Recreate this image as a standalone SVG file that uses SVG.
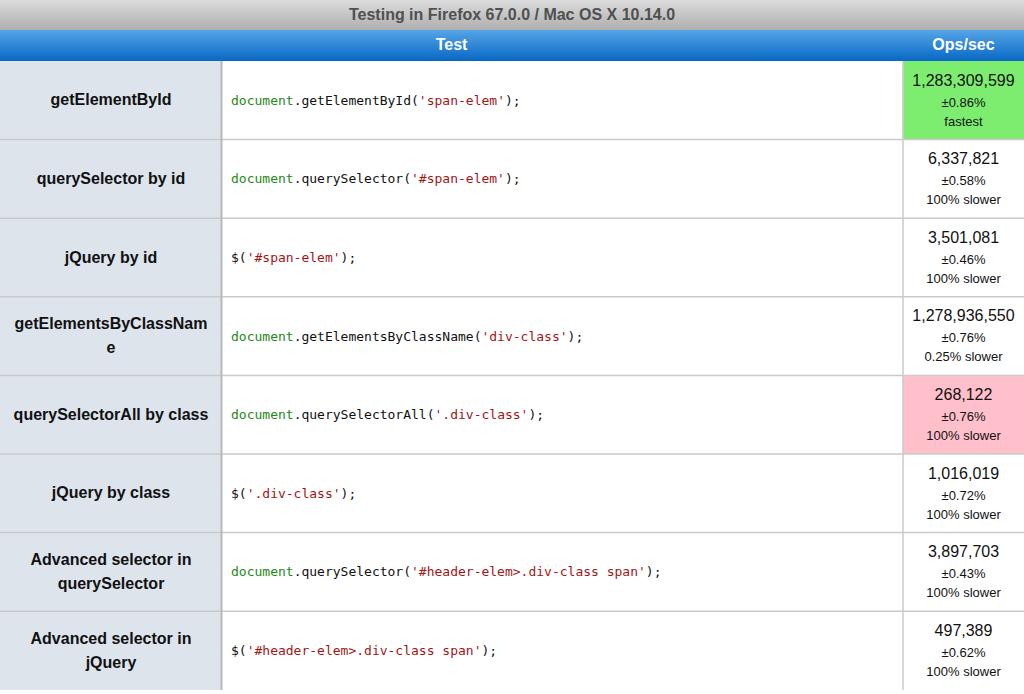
<svg xmlns="http://www.w3.org/2000/svg" width="1024" height="694" viewBox="0 0 1024 694">
<defs>
<linearGradient id="gTitle" x1="0" y1="0" x2="0" y2="1">
<stop offset="0" stop-color="#dcdcdc"/>
<stop offset="1" stop-color="#aeaeae"/>
</linearGradient>
<linearGradient id="gHead" x1="0" y1="0" x2="0" y2="1">
<stop offset="0" stop-color="#55a5e6"/>
<stop offset="1" stop-color="#0868c4"/>
</linearGradient>
<style>
.lab{font-family:"Liberation Sans",Arial,Helvetica,sans-serif;font-weight:bold;font-size:16px;fill:#111;text-anchor:middle}
.code{font-family:"DejaVu Sans Mono","Liberation Mono",monospace;font-size:13px;fill:#111;white-space:pre}
.k{fill:#25871a}
.s{fill:#a31515}
.num{font-family:"Liberation Sans",Arial,Helvetica,sans-serif;font-size:16px;fill:#111;text-anchor:middle}
.sm{font-family:"Liberation Sans",Arial,Helvetica,sans-serif;font-size:13px;fill:#111;text-anchor:middle}
.hd{font-family:"Liberation Sans",Arial,Helvetica,sans-serif;font-weight:bold;font-size:16px;fill:#ffffff;text-anchor:middle}
.lc{fill:#dde4ec}
.grid{stroke:#cacaca;stroke-width:1.5;fill:none}
</style>
</defs>
<rect x="0" y="0" width="1024" height="694" fill="#ffffff"/>
<g id="title">
<rect x="0" y="0" width="1024" height="30" fill="url(#gTitle)"/>
<text x="512" y="19.5" font-family="Liberation Sans,Arial,sans-serif" font-weight="bold" font-size="16" fill="#505050" text-anchor="middle">Testing in Firefox 67.0.0 / Mac OS X 10.14.0</text>
</g>
<g id="header">
<rect x="0" y="30" width="1024" height="31" fill="url(#gHead)"/>
<text class="hd" x="451.5" y="50">Test</text>
<text class="hd" x="963.5" y="50">Ops/sec</text>
</g>
<g id="cells">
<rect class="lc" x="0" y="61" width="222" height="629"/>
<rect x="903" y="61" width="121" height="78.6" fill="#7ded6f"/>
<rect x="903" y="375.4" width="121" height="78.6" fill="#ffc0cb"/>
</g>
<g id="gridlines">
<path class="grid" d="M0 139.6H1024M0 218.2H1024M0 296.8H1024M0 375.4H1024M0 454H1024M0 532.6H1024M0 611.2H1024"/>
<path class="grid" d="M903 61V690"/>
<path d="M221.5 61V690" stroke="#b6babe" stroke-width="2" fill="none"/>
</g>
<g id="row1">
<text class="lab" x="111" y="105.3">getElementById</text>
<text class="code" x="231" y="104.8"><tspan class="k">document</tspan>.getElementById(<tspan class="s">'span-elem'</tspan>);</text>
<text class="num" x="963.5" y="85.5">1,283,309,599</text>
<text class="sm" x="963.5" y="106.5">±0.86%</text>
<text class="sm" x="963.5" y="125.5">fastest</text>
</g>
<g id="row2">
<text class="lab" x="111" y="183.9">querySelector by id</text>
<text class="code" x="231" y="183.4"><tspan class="k">document</tspan>.querySelector(<tspan class="s">'#span-elem'</tspan>);</text>
<text class="num" x="963.5" y="164.1">6,337,821</text>
<text class="sm" x="963.5" y="185.1">±0.58%</text>
<text class="sm" x="963.5" y="204.1">100% slower</text>
</g>
<g id="row3">
<text class="lab" x="111" y="262.5">jQuery by id</text>
<text class="code" x="231" y="262"><tspan>$(</tspan><tspan class="s">'#span-elem'</tspan>);</text>
<text class="num" x="963.5" y="242.7">3,501,081</text>
<text class="sm" x="963.5" y="263.7">±0.46%</text>
<text class="sm" x="963.5" y="282.7">100% slower</text>
</g>
<g id="row4">
<text class="lab" x="111" y="329.1">getElementsByClassNam</text>
<text class="lab" x="111" y="353.1">e</text>
<text class="code" x="231" y="340.6"><tspan class="k">document</tspan>.getElementsByClassName(<tspan class="s">'div-class'</tspan>);</text>
<text class="num" x="963.5" y="321.3">1,278,936,550</text>
<text class="sm" x="963.5" y="342.3">±0.76%</text>
<text class="sm" x="963.5" y="361.3">0.25% slower</text>
</g>
<g id="row5">
<text class="lab" x="111" y="419.7">querySelectorAll by class</text>
<text class="code" x="231" y="419.2"><tspan class="k">document</tspan>.querySelectorAll(<tspan class="s">'.div-class'</tspan>);</text>
<text class="num" x="963.5" y="399.9">268,122</text>
<text class="sm" x="963.5" y="420.9">±0.76%</text>
<text class="sm" x="963.5" y="439.9">100% slower</text>
</g>
<g id="row6">
<text class="lab" x="111" y="498.3">jQuery by class</text>
<text class="code" x="231" y="497.8">$(<tspan class="s">'.div-class'</tspan>);</text>
<text class="num" x="963.5" y="478.5">1,016,019</text>
<text class="sm" x="963.5" y="499.5">±0.72%</text>
<text class="sm" x="963.5" y="518.5">100% slower</text>
</g>
<g id="row7">
<text class="lab" x="111" y="565">Advanced selector in</text>
<text class="lab" x="111" y="589">querySelector</text>
<text class="code" x="231" y="576.4"><tspan class="k">document</tspan>.querySelector(<tspan class="s">'#header-elem&gt;.div-class span'</tspan>);</text>
<text class="num" x="963.5" y="557.1">3,897,703</text>
<text class="sm" x="963.5" y="578.1">±0.43%</text>
<text class="sm" x="963.5" y="597.1">100% slower</text>
</g>
<g id="row8">
<text class="lab" x="111" y="643.6">Advanced selector in</text>
<text class="lab" x="111" y="667.6">jQuery</text>
<text class="code" x="231" y="655">$(<tspan class="s">'#header-elem&gt;.div-class span'</tspan>);</text>
<text class="num" x="963.5" y="635.7">497,389</text>
<text class="sm" x="963.5" y="656.7">±0.62%</text>
<text class="sm" x="963.5" y="675.7">100% slower</text>
</g>
</svg>
